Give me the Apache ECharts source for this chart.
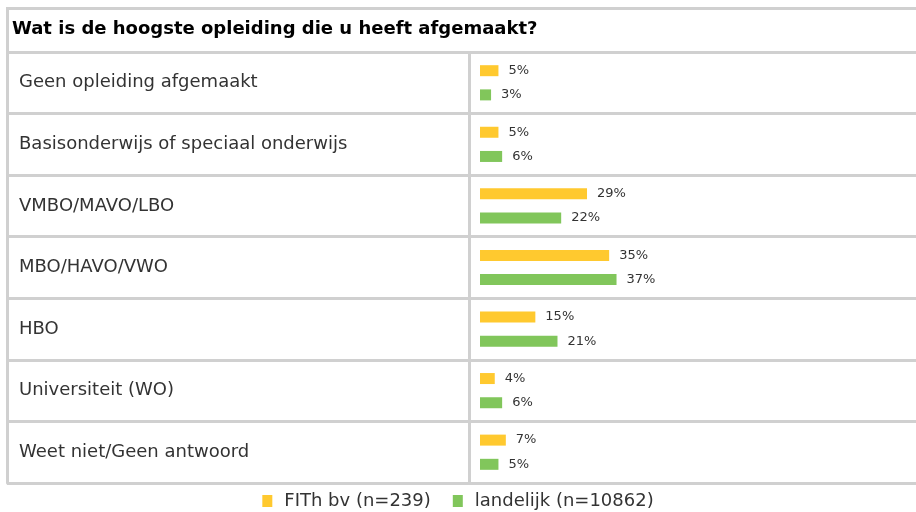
<!DOCTYPE html>
<html>
<head>
<meta charset="utf-8">
<script src="https://cdn.jsdelivr.net/npm/echarts@6/dist/echarts.min.js"></script>
<style>html,body{margin:0;padding:0;background:#fff}#c{width:916px;height:512px}</style>
</head>
<body>
<div id="c"></div>
<script>
var question = 'Wat is de hoogste opleiding die u heeft afgemaakt?';
var categories = ['Geen opleiding afgemaakt','Basisonderwijs of speciaal onderwijs','VMBO/MAVO/LBO','MBO/HAVO/VWO','HBO','Universiteit (WO)','Weet niet/Geen antwoord'];
var seriesNames = ['FITh bv (n=239)','landelijk (n=10862)'];
var fithValues = [5,5,29,35,15,4,7];
var landelijkValues = [3,6,22,37,21,6,5];

var FONT = 'DejaVu Sans';
var LINE = '#d0d0d0';
var chart = echarts.init(document.getElementById('c'), null, {renderer:'canvas'});
var labelCfg = {show:true, position:'right', distance:10, formatter:'{c}%', fontFamily:FONT, fontSize:13, color:'#333'};
chart.setOption({
  animation:false,
  color:['#FFC92F','#81C65B'],
  title:{text:question, left:12, top:20, padding:0,
    textStyle:{fontFamily:FONT, fontSize:18, fontWeight:'bold', color:'#000'}},
  legend:{top:487, left:'center', icon:'rect', itemWidth:10, itemHeight:12, itemGap:22,
    textStyle:{fontFamily:FONT, fontSize:18, color:'#333', padding:[0,0,0,7]}, data:seriesNames},
  grid:[
    {left:7, right:-10, top:52, bottom:29},
    {left:480, width:369, top:52, bottom:29}
  ],
  xAxis:[
    {gridIndex:0, type:'value', min:0, max:1, show:false},
    {gridIndex:1, type:'value', min:0, max:100, show:false}
  ],
  yAxis:[
    {gridIndex:0, type:'category', data:categories, inverse:true, boundaryGap:true,
     axisLine:{show:true, lineStyle:{color:LINE, width:3}},
     axisTick:{show:false},
     splitLine:{show:true, lineStyle:{color:LINE, width:3}},
     axisLabel:{inside:true, margin:12, align:'left', fontFamily:FONT, fontSize:18, color:'#333'}},
    {gridIndex:1, type:'category', data:categories, inverse:true, show:false}
  ],
  series:[
    {name:seriesNames[0], type:'bar', xAxisIndex:1, yAxisIndex:1, data:fithValues, barWidth:11, barGap:'120%', label:labelCfg},
    {name:seriesNames[1], type:'bar', xAxisIndex:1, yAxisIndex:1, data:landelijkValues, barWidth:11, barGap:'120%', label:labelCfg}
  ],
  graphic:[
    {type:'rect', shape:{x:7.5, y:8.5, width:930, height:44}, style:{fill:null, stroke:LINE, lineWidth:3}, silent:true},
    {type:'line', shape:{x1:469.5, y1:52, x2:469.5, y2:483}, style:{stroke:LINE, lineWidth:3}, silent:true}
  ]
});
</script>
</body>
</html>
